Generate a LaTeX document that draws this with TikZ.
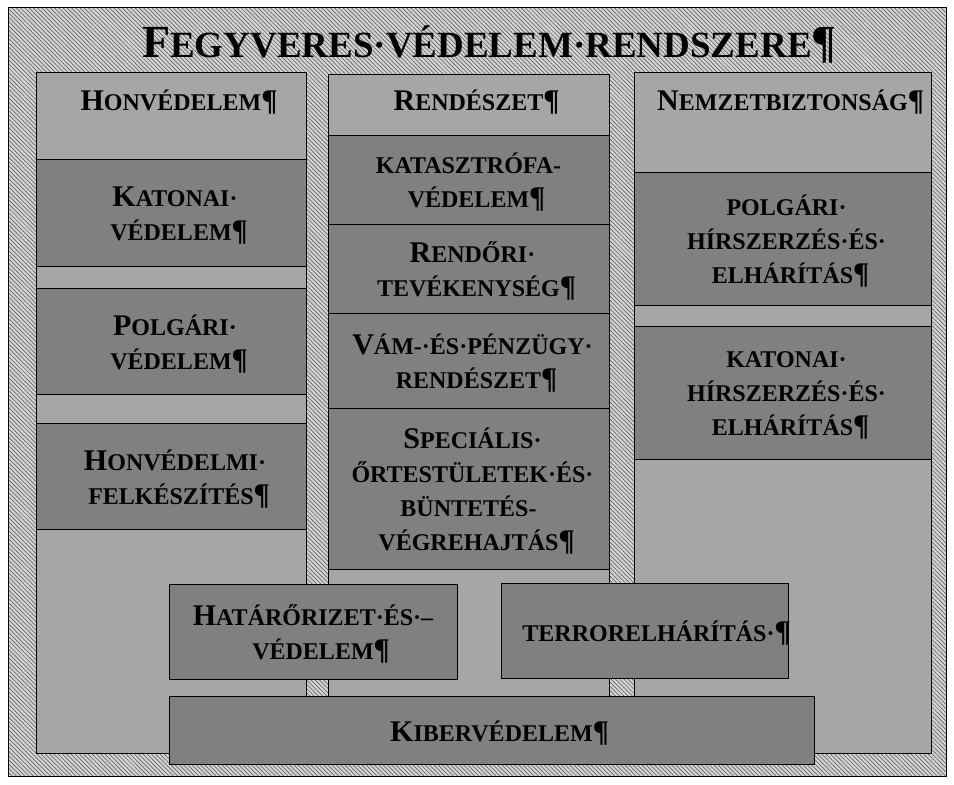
\documentclass[tikz,border=0pt]{standalone}
\usepackage{fontspec}
\setmainfont{Liberation Serif}
\usetikzlibrary{
  fit,
  patterns.meta
}
\definecolor{hatterszurke}{HTML}{D4D4D4}
\definecolor{oszlopszurke}{HTML}{A6A6A6}
\definecolor{dobozszurke}{HTML}{808080}

\newcommand{\kb}[1]{{\fontsize{15}{17}\selectfont #1}}
\newcommand{\cimkb}[1]{{\fontsize{23}{26}\selectfont #1}}
\newcommand{\bek}{\rlap{\raisebox{0pt}[\height][0pt]{\kb{¶}}}}
\newcommand{\szk}{\rlap{·}}

\tikzset{
  keret/.style={draw, line width=0.5pt, inner sep=0pt, outer sep=0pt},
  hatterdoboz/.style={keret, preaction={fill=hatterszurke},
    pattern={Lines[angle=-45, distance=1.5pt, line width=0.35pt]},
    pattern color=black!60},
  oszlop/.style={keret, fill=oszlopszurke},
  doboz/.style={keret, fill=dobozszurke, align=center,
    font=\bfseries\fontsize{12}{17}\selectfont},
  fejlec/.style={anchor=base, font=\bfseries\fontsize{12}{17}\selectfont}
}

\begin{document}
\begin{tikzpicture}[x=0.5pt, y=-0.5pt]
  \useasboundingbox (0,0) rectangle (954,785);

  \node[hatterdoboz, fit={(8,8) (946,777)}] (keret) {};
  \node[anchor=base, font=\bfseries\fontsize{18.5}{22}\selectfont] (cim) at (477,58)
    {\cimkb{F}EGYVERES·VÉDELEM·RENDSZERE\rlap{\cimkb{¶}}};

  % oszlopok
  \node[oszlop, fit={(36,73) (306,754)}] (honvoszlop) {};
  \node[oszlop, fit={(328,75) (609,754)}] (rendoszlop) {};
  \node[oszlop, fit={(634,73) (931,754)}] (nboszlop) {};

  \node[fejlec] (honvedelem) at (171,111) {\kb{H}ONVÉDELEM\bek};
  \node[fejlec] (rendeszet) at (468.5,111) {\kb{R}ENDÉSZET\bek};
  \node[fejlec] (nembizt) at (782.5,111) {\kb{N}EMZETBIZTONSÁG\bek};

  % honvedelem
  \node[doboz, minimum width=135pt, minimum height=53.5pt] (katvedelem) at (171,213.5)
    {\kb{K}ATONAI\szk\\VÉDELEM\bek};
  \node[doboz, minimum width=135pt, minimum height=53pt] (polgvedelem) at (171,342)
    {\kb{P}OLGÁRI\szk\\VÉDELEM\bek};
  \node[doboz, minimum width=135pt, minimum height=53pt] (felkeszites) at (171,477)
    {\kb{H}ONVÉDELMI\szk\\FELKÉSZÍTÉS\bek};

  % rendeszet
  \node[doboz, minimum width=140.5pt, minimum height=44.5pt] (katasztrofa) at (468.5,180.5)
    {KATASZTRÓFA-\\VÉDELEM\bek};
  \node[doboz, minimum width=140.5pt, minimum height=44.5pt] (rendori) at (468.5,269.5)
    {\kb{R}ENDŐRI\szk\\TEVÉKENYSÉG\bek};
  \node[doboz, minimum width=140.5pt, minimum height=47.5pt] (vam) at (468.5,361.5)
    {\kb{V}ÁM-·ÉS·PÉNZÜGY\szk\\RENDÉSZET\bek};
  \node[doboz, minimum width=140.5pt, minimum height=80.5pt] (specialis) at (468.5,489.5)
    {\kb{S}PECIÁLIS\szk\\ŐRTESTÜLETEK·ÉS\szk\\BÜNTETÉS-\\VÉGREHAJTÁS\bek};

  % nemzetbiztonsag
  \node[doboz, minimum width=148.5pt, minimum height=66.5pt] (polghirszerzes) at (782.5,239.5)
    {POLGÁRI\szk\\HÍRSZERZÉS·ÉS\szk\\ELHÁRÍTÁS\bek};
  \node[doboz, minimum width=148.5pt, minimum height=66.5pt] (kathirszerzes) at (782.5,393.5)
    {KATONAI\szk\\HÍRSZERZÉS·ÉS\szk\\ELHÁRÍTÁS\bek};

  % kozos feladatok
  \node[doboz, minimum width=144pt, minimum height=47.5pt] (hatarorizet) at (313,632.5)
    {\kb{H}ATÁRŐRIZET·ÉS·–\\VÉDELEM\bek};
  \node[doboz, minimum width=143.5pt, minimum height=47.5pt] (terror) at (644.5,631.5)
    {TERRORELHÁRÍTÁS\rlap{·\raisebox{0pt}[\height][0pt]{\kb{¶}}}};
  \node[doboz, minimum width=322.5pt, minimum height=34pt] (kiber) at (491.5,731)
    {\kb{K}IBERVÉDELEM\bek};
\end{tikzpicture}
\end{document}
